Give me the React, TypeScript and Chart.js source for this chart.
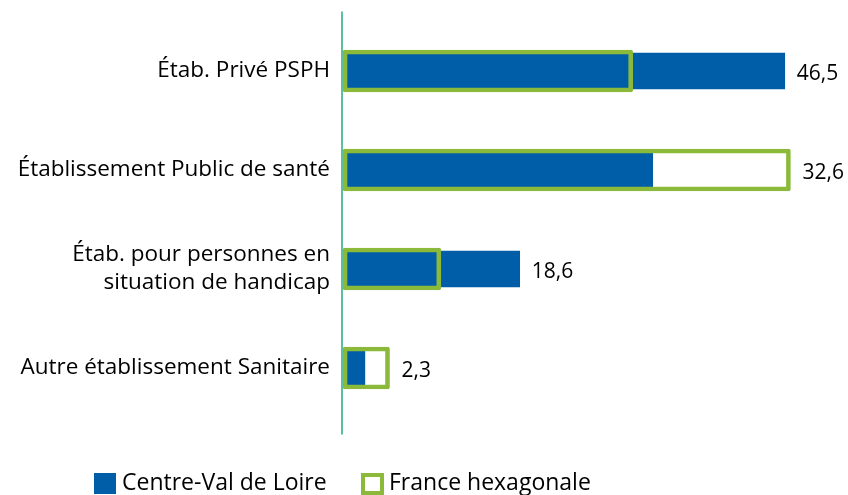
import React, { useEffect, useRef } from "react";
import { Chart, registerables } from "chart.js";

Chart.register(...registerables);

const categories: (string | string[])[] = [
  "Étab. Privé PSPH",
  "Établissement Public de santé",
  ["Étab. pour personnes en", "situation de handicap"],
  "Autre établissement Sanitaire",
];
const centreValues = [46.5, 32.6, 18.6, 2.3];
const franceValues = [30.5, 47.1, 10.3, 4.9];
const valueLabels = ["46,5", "32,6", "18,6", "2,3"];
const seriesNames = ["Centre-Val de Loire", "France hexagonale"];

const BLUE = "#005EA8";
const GREEN = "#8BBA3B";
const AXIS = "#5CBF9F";
const FONT = "'Open Sans'";

const overlay = {
  id: "overlay",
  beforeDatasetsDraw(chart: any) {
    const ctx = chart.ctx;
    const { left, top, bottom } = chart.chartArea;
    ctx.save();
    ctx.strokeStyle = AXIS;
    ctx.lineWidth = 2;
    ctx.beginPath();
    ctx.moveTo(left - 1, top - 10);
    ctx.lineTo(left - 1, bottom + 17);
    ctx.stroke();
    ctx.restore();
  },
  afterDatasetsDraw(chart: any) {
    const ctx = chart.ctx;
    const mGreen = chart.getDatasetMeta(0);
    const mBlue = chart.getDatasetMeta(1);
    ctx.save();
    ctx.font = `21px ${FONT}`;
    ctx.fillStyle = "#000";
    ctx.textBaseline = "middle";
    ctx.textAlign = "left";
    valueLabels.forEach((t, i) => {
      const x = Math.max(mGreen.data[i].x, mBlue.data[i].x) + 12;
      ctx.fillText(t, x, mBlue.data[i].y + 3);
    });
    ctx.restore();
  },
};

export default function App() {
  const ref = useRef<HTMLCanvasElement | null>(null);
  useEffect(() => {
    if (!ref.current) return;
    const chart = new Chart(ref.current, {
      type: "bar",
      data: {
        labels: categories as any,
        datasets: [
          {
            label: seriesNames[1],
            data: franceValues,
            backgroundColor: "rgba(0,0,0,0)",
            borderColor: GREEN,
            borderWidth: 4,
            borderSkipped: false,
            borderRadius: 2,
            barThickness: 42,
            grouped: false,
          } as any,
          {
            label: seriesNames[0],
            data: centreValues,
            backgroundColor: BLUE,
            borderWidth: 0,
            barThickness: 36,
            grouped: false,
          } as any,
        ],
      },
      options: {
        indexAxis: "y",
        responsive: true,
        maintainAspectRatio: false,
        animation: false,
        layout: { padding: { top: 21.5, bottom: 77.5, right: 30, left: 0 } },
        scales: {
          x: { display: false, min: 0, max: 50 },
          y: {
            grid: { display: false, drawTicks: false },
            border: { display: false },
            ticks: {
              padding: 13,
              color: "#000",
              font: { family: FONT, size: 22.5, lineHeight: 1.24 },
            },
            afterFit: (s: any) => {
              s.width = 343;
              s.paddingTop = 0;
              s.paddingBottom = 0;
            },
          },
        },
        plugins: {
          legend: { display: false },
          tooltip: { enabled: false },
        },
      },
      plugins: [overlay],
    });
    return () => chart.destroy();
  }, []);

  const textStyle: React.CSSProperties = {
    position: "absolute",
    top: 469,
    fontFamily: FONT,
    fontSize: 23,
    lineHeight: "24px",
    color: "#000",
    whiteSpace: "nowrap",
  };

  return (
    <div
      style={{
        position: "fixed",
        left: 0,
        top: 0,
        width: 848,
        height: 495,
        background: "#fff",
        overflow: "hidden",
      }}
    >
      <canvas ref={ref} />
      <div style={{ position: "absolute", left: 94, top: 473, width: 22, height: 21, background: BLUE }} />
      <div style={{ ...textStyle, left: 122 }}>{seriesNames[0]}</div>
      <div
        style={{
          position: "absolute",
          left: 361,
          top: 473,
          width: 23,
          height: 22,
          border: `4px solid ${GREEN}`,
          boxSizing: "border-box",
          background: "#fff",
        }}
      />
      <div style={{ ...textStyle, left: 389 }}>{seriesNames[1]}</div>
    </div>
  );
}
